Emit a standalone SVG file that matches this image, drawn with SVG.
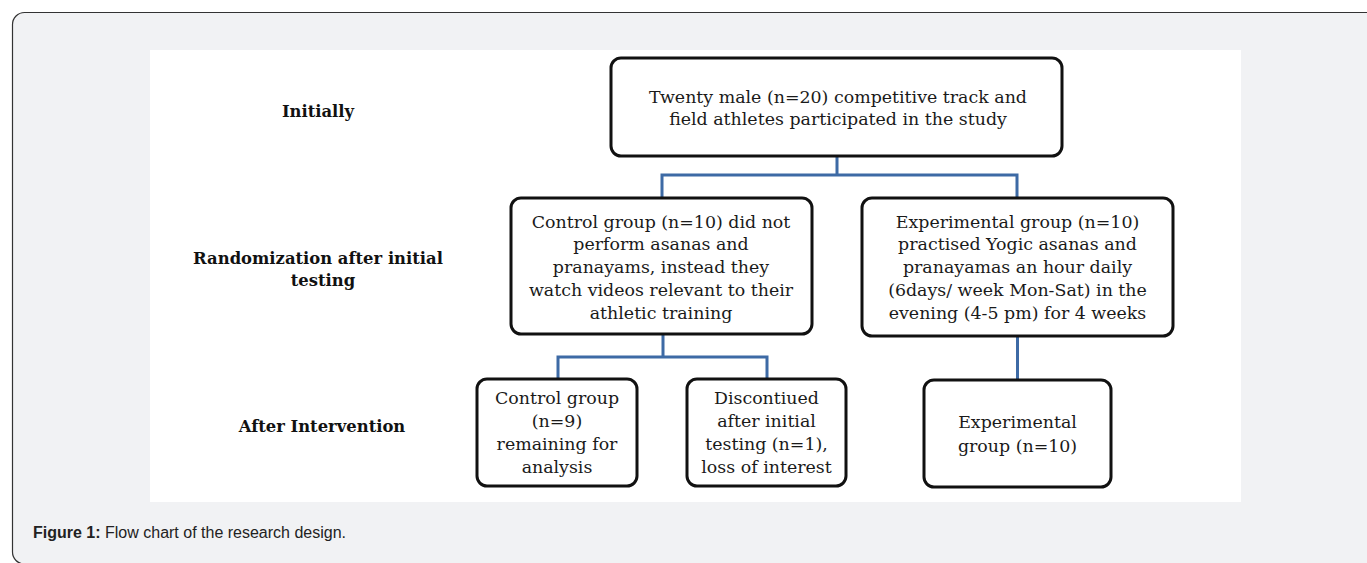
<svg xmlns="http://www.w3.org/2000/svg" width="1367" height="563" viewBox="0 0 1367 563">
<style>
.box{fill:#fff;stroke:#111;stroke-width:3}
.t{font-family:"DejaVu Serif","Liberation Serif",serif;font-size:17.4px;fill:#1a1a1a;text-anchor:middle}
.lbl{font-family:"DejaVu Serif","Liberation Serif",serif;font-size:16.4px;font-weight:bold;fill:#111;text-anchor:middle}
.con{fill:none;stroke:#3d6aa5;stroke-width:3}
.cap{font-family:"Liberation Sans",Arial,sans-serif;font-size:16px;fill:#222}
</style>
<rect x="12.5" y="12.5" width="1370" height="551.5" rx="12" fill="#f1f2f4" stroke="#333" stroke-width="1.2"/>
<rect x="150" y="50" width="1091" height="452" fill="#fff"/>
<g id="labels">
<text class="lbl" x="318" y="117">Initially</text>
<text class="lbl" x="318" y="264">Randomization after initial</text>
<text class="lbl" x="323" y="286">testing</text>
<text class="lbl" x="322" y="432">After Intervention</text>
</g>
<g id="connectors">
<path class="con" d="M837 156V175M662 198V175H1017V198"/>
<path class="con" d="M663 334V357M558 379V357H767V379"/>
<path class="con" d="M1017.5 337V380"/>
</g>
<g id="n-top">
<rect class="box" x="611" y="58" width="451" height="98" rx="10"/>
<text class="t" x="838" y="103">Twenty male (n=20) competitive track and</text>
<text class="t" x="838" y="124.5">field athletes participated in the study</text>
</g>
<g id="n-control">
<rect class="box" x="511" y="198" width="301" height="136" rx="10"/>
<text class="t" x="661" y="228">Control group (n=10) did not</text>
<text class="t" x="661" y="250">perform asanas and</text>
<text class="t" x="661" y="273">pranayams, instead they</text>
<text class="t" x="661" y="296">watch videos relevant to their</text>
<text class="t" x="661" y="319">athletic training</text>
</g>
<g id="n-exp">
<rect class="box" x="862" y="198" width="311" height="138" rx="10"/>
<text class="t" x="1017.5" y="228">Experimental group (n=10)</text>
<text class="t" x="1017.5" y="250">practised Yogic asanas and</text>
<text class="t" x="1017.5" y="273">pranayamas an hour daily</text>
<text class="t" x="1017.5" y="296">(6days/ week Mon-Sat) in the</text>
<text class="t" x="1017.5" y="319">evening (4-5 pm) for 4 weeks</text>
</g>
<g id="n-control-final">
<rect class="box" x="477" y="379" width="160" height="107" rx="10"/>
<text class="t" x="557" y="404">Control group</text>
<text class="t" x="557" y="427">(n=9)</text>
<text class="t" x="557" y="450">remaining for</text>
<text class="t" x="557" y="473">analysis</text>
</g>
<g id="n-discontinued">
<rect class="box" x="687" y="379" width="159" height="107" rx="10"/>
<text class="t" x="766.5" y="404">Discontiued</text>
<text class="t" x="766.5" y="427">after initial</text>
<text class="t" x="766.5" y="450">testing (n=1),</text>
<text class="t" x="766.5" y="473">loss of interest</text>
</g>
<g id="n-exp-final">
<rect class="box" x="924" y="380" width="187" height="107" rx="10"/>
<text class="t" x="1017.5" y="428">Experimental</text>
<text class="t" x="1017.5" y="452">group (n=10)</text>
</g>
<text class="cap" x="33" y="538"><tspan font-weight="bold">Figure 1:</tspan> Flow chart of the research design.</text>
</svg>
